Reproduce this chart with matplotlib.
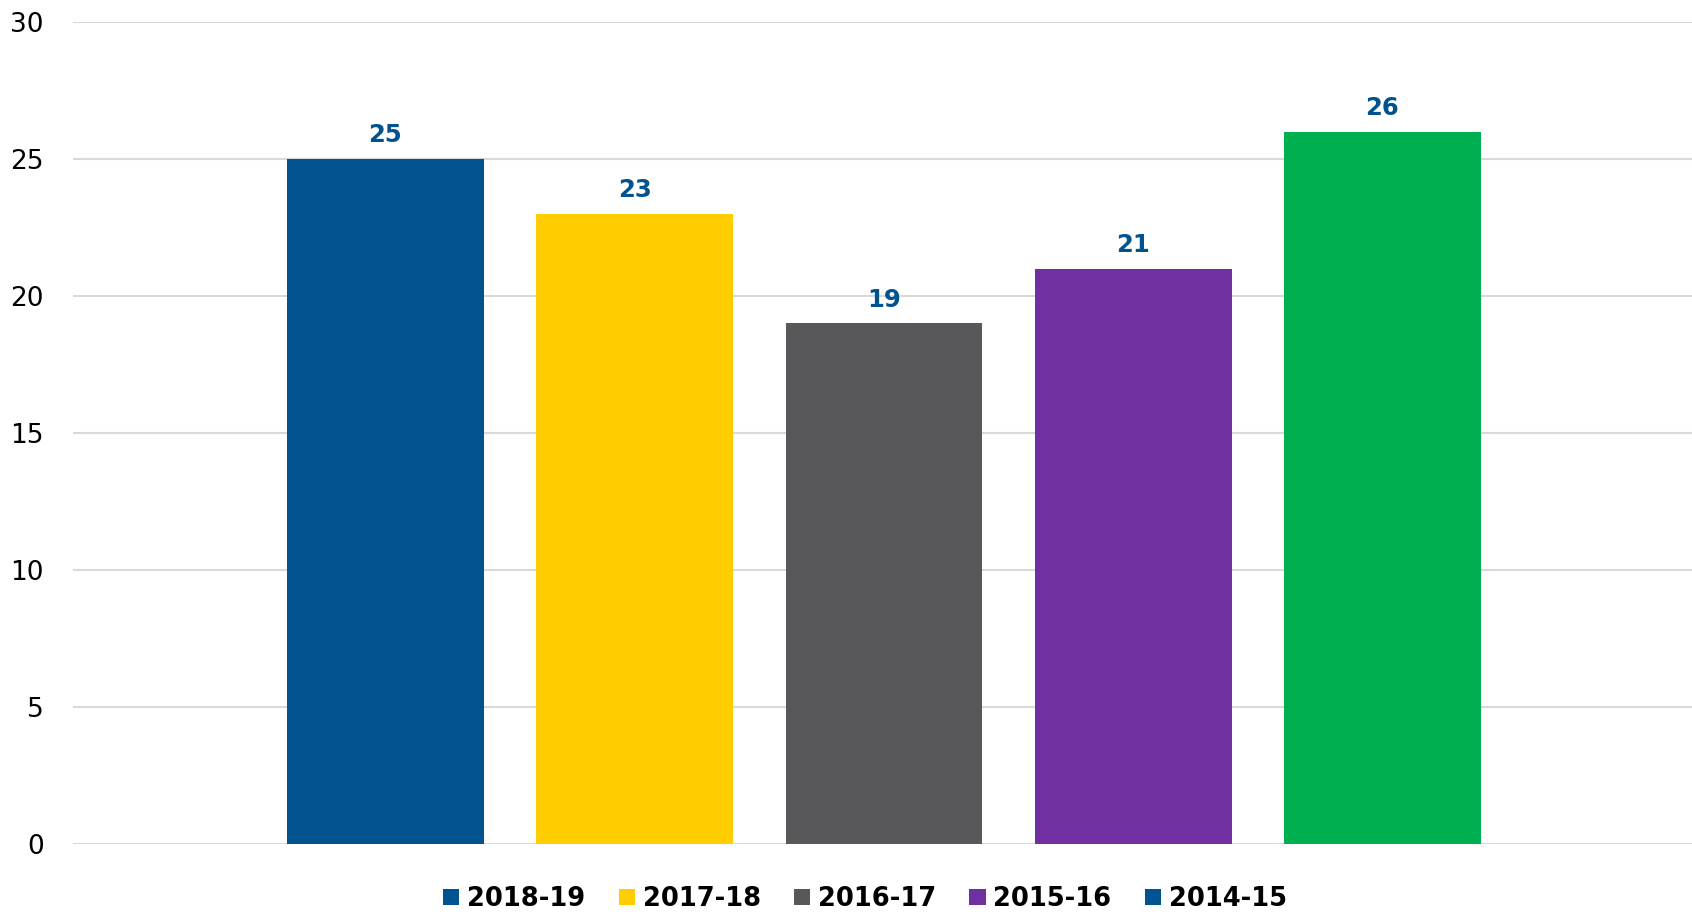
import matplotlib
matplotlib.use("Agg")
import matplotlib.pyplot as plt
from matplotlib.patches import Patch
import numpy as np

years = ["2018-19", "2017-18", "2016-17", "2015-16", "2014-15"]
values = [25, 23, 19, 21, 26]
bar_colors = ["#00538F", "#FFCD00", "#58585A", "#7030A0", "#00B050"]
# legend swatches as shown in the original (last one is blue there too)
legend_colors = ["#00538F", "#FFCD00", "#58585A", "#7030A0", "#00538F"]
yticks = [0, 5, 10, 15, 20, 25, 30]

plt.rcParams['font.family'] = ['DejaVu Sans']

fig = plt.figure(figsize=(16.92, 9.14), dpi=100)
ax = fig.add_axes([0.0431, 0.0766, 0.9569, 0.8993])

x = np.arange(len(years))
ax.bar(x, values, width=0.79, color=bar_colors, zorder=3)

for xi, v in zip(x, values):
    ax.annotate(str(v), (xi, v), xytext=(0, 12), textcoords="offset points",
                ha="center", va="baseline", fontsize=17.5, fontweight="bold",
                color="#00538F")

ax.set_xlim(-1.254, 5.242)
ax.set_ylim(0, 30)
ax.set_yticks(yticks)
ax.set_yticklabels([str(t) for t in yticks], fontsize=19)
ax.set_xticks([])
ax.tick_params(axis="y", length=0, pad=21)
ax.grid(axis="y", color="#D9D9D9", linewidth=1.5, zorder=0)
for s in ax.spines.values():
    s.set_visible(False)

handles = [Patch(facecolor=c, edgecolor="none") for c in legend_colors]
fig.legend(handles, years, loc="center", bbox_to_anchor=(865 / 1692, 1 - 899 / 914),
           ncol=5, frameon=False, handlelength=0.63, handleheight=0.63,
           handletextpad=0.3, columnspacing=1.3,
           prop={"size": 18.5, "weight": "bold"})

fig.savefig("out.png", dpi=100)
